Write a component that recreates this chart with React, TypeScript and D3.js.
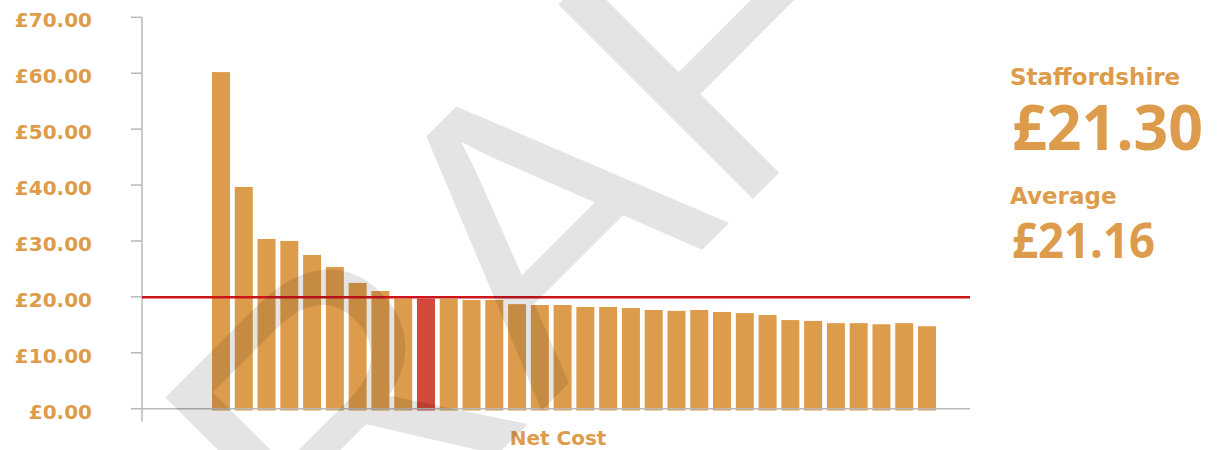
import React from "react";
import * as d3 from "d3";

const categories = [
  "LA01", "LA02", "LA03", "LA04", "LA05", "LA06", "LA07", "LA08",
  "LA09", "Staffordshire", "LA11", "LA12", "LA13", "LA14", "LA15", "LA16",
  "LA17", "LA18", "LA19", "LA20", "LA21", "LA22", "LA23", "LA24",
  "LA25", "LA26", "LA27", "LA28", "LA29", "LA30", "LA31", "LA32",
];
const netCost = [
  60.2, 39.65, 30.35, 30.0, 27.5, 25.35, 22.5, 21.05,
  19.7, 19.7, 19.65, 19.45, 19.45, 18.7, 18.55, 18.55,
  18.2, 18.2, 18.0, 17.65, 17.5, 17.65, 17.3, 17.1,
  16.75, 15.85, 15.7, 15.3, 15.3, 15.1, 15.3, 14.75,
];
const highlight = "Staffordshire";
const lineValue = 19.93;
const yTicks = [0, 10, 20, 30, 40, 50, 60, 70];
const yTickLabels = ["£0.00", "£10.00", "£20.00", "£30.00", "£40.00", "£50.00", "£60.00", "£70.00"];
const xAxisTitle = "Net Cost";
const sideLabel1 = "Staffordshire";
const sideValue1 = "£21.30";
const sideLabel2 = "Average";
const sideValue2 = "£21.16";
const watermark = "DRAFT";

const W = 1221;
const H = 450;
const ORANGE = "#DD9C4B";
const RED_BAR = "#D4473B";
const RED_LINE = "#CC141B";
const AXIS = "#B8B8B8";

export default function App() {
  const y = d3.scaleLinear().domain([0, 70]).range([408.7, 17.3]);
  const x = d3
    .scaleBand<string>()
    .domain(categories)
    .range([209.6, 938.4])
    .paddingInner(0.21)
    .paddingOuter(0.105);
  const axisX = 142;
  const plotRight = 970;
  const smallFont = "'DejaVu Sans', sans-serif";
  const bigFont = "'Open Sans', sans-serif";

  return (
    <svg
      width={W}
      height={H}
      style={{ position: "absolute", left: 0, top: 0 }}
      xmlns="http://www.w3.org/2000/svg"
    >
      <rect width={W} height={H} fill="#fff" />
      {/* bars */}
      {categories.map((c, i) => (
        <rect
          key={c}
          x={x(c)}
          y={y(netCost[i])}
          width={x.bandwidth()}
          height={y(0) + 1.8 - y(netCost[i])}
          fill={c === highlight ? RED_BAR : ORANGE}
        />
      ))}
      {/* axes */}
      <line x1={axisX} x2={axisX} y1={y(70)} y2={421.5} stroke={AXIS} strokeWidth={1.5} />
      {yTicks.map((t) => (
        <line key={t} x1={131} x2={axisX} y1={y(t)} y2={y(t)} stroke={AXIS} strokeWidth={1.5} />
      ))}
      <line x1={axisX} x2={plotRight} y1={y(0)} y2={y(0)} stroke={AXIS} strokeWidth={1.5} />
      {/* y labels */}
      {yTicks.map((t, i) => (
        <text
          key={t}
          x={92}
          y={y(t) + 10}
          textAnchor="end"
          fontFamily={smallFont}
          fontWeight="bold"
          fontSize={20}
          fill={ORANGE}
        >
          {yTickLabels[i]}
        </text>
      ))}
      {/* average line */}
      <line
        x1={axisX}
        x2={plotRight}
        y1={y(lineValue)}
        y2={y(lineValue)}
        stroke={RED_LINE}
        strokeWidth={2.6}
      />
      {/* x title */}
      <text
        x={558}
        y={445}
        textAnchor="middle"
        fontFamily={smallFont}
        fontWeight="bold"
        fontSize={20}
        fill={ORANGE}
      >
        {xAxisTitle}
      </text>
      {/* side panel */}
      <text x={1010} y={85} fontFamily={smallFont} fontWeight="bold" fontSize={23} fill={ORANGE}>
        {sideLabel1}
      </text>
      <text
        x={1012}
        y={150}
        fontFamily={bigFont}
        fontWeight="bold"
        fontSize={62}
        fill={ORANGE}
        textLength={191}
        lengthAdjust="spacingAndGlyphs"
      >
        {sideValue1}
      </text>
      <text x={1010} y={204} fontFamily={smallFont} fontWeight="bold" fontSize={23} fill={ORANGE}>
        {sideLabel2}
      </text>
      <text
        x={1012}
        y={258}
        fontFamily={bigFont}
        fontWeight="bold"
        fontSize={49}
        fill={ORANGE}
        textLength={143}
        lengthAdjust="spacingAndGlyphs"
      >
        {sideValue2}
      </text>
      {/* watermark */}
      <text
        transform="translate(132.5,819.5) rotate(-45)"
        fontFamily="'Liberation Sans', Arial, sans-serif"
        fontSize={400}
        fill="#000"
        fillOpacity={0.105}
      >
        {watermark}
      </text>
    </svg>
  );
}
